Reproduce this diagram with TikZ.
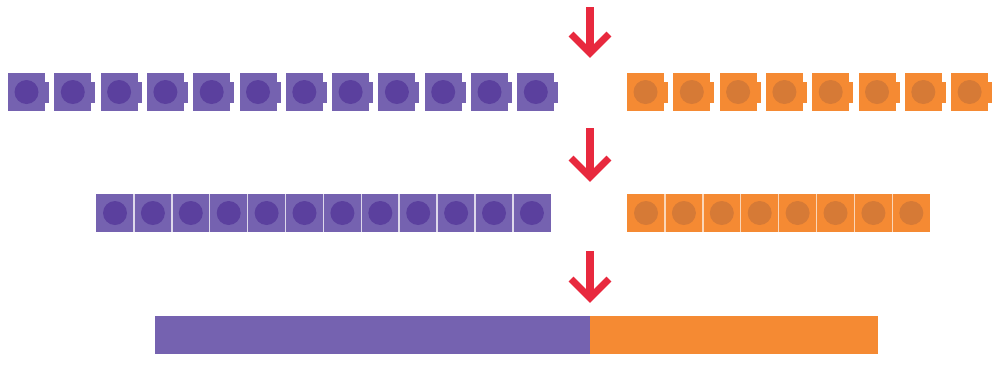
\documentclass[tikz,border=0pt]{standalone}
\usepackage{xcolor}
\definecolor{cubepurple}{HTML}{7562B0}
\definecolor{dotpurple}{HTML}{5B409E}
\definecolor{cubeorange}{HTML}{F58A33}
\definecolor{dotorange}{HTML}{D67A36}
\definecolor{arrowred}{HTML}{E8293E}

\begin{document}
\begin{tikzpicture}[x=0.02cm,y=-0.02cm,
  redarrow/.style={draw=arrowred,line width=4pt,line join=miter}]
  \useasboundingbox (0,0) rectangle (995,366);
  \foreach \i in {0,...,11} {
    \fill[cubepurple] (8+46.3*\i,73) rectangle ++(37,38);
    \fill[cubepurple] (45+46.3*\i,82) rectangle ++(4,21);
    \fill[dotpurple] (26.5+46.3*\i,92) circle (12);
  }
  \foreach \i in {0,...,7} {
    \fill[cubeorange] (627+46.3*\i,73) rectangle ++(37,38);
    \fill[cubeorange] (664+46.3*\i,82) rectangle ++(4,21);
    \fill[dotorange] (645.5+46.3*\i,92) circle (12);
  }
  \fill[cubepurple] (96,194) rectangle ++(454.8,38);
  \foreach \i in {0,...,11} {
    \fill[dotpurple] (115+37.9*\i,213) circle (12);
  }
  \foreach \i in {1,...,11} {
    \draw[white!75!cubepurple,line width=0.8pt] (96+37.9*\i,194) -- ++(0,38);
  }
  \fill[cubeorange] (627,194) rectangle ++(303.2,38);
  \foreach \i in {0,...,7} {
    \fill[dotorange] (646+37.9*\i,213) circle (12);
  }
  \foreach \i in {1,...,7} {
    \draw[white!65!cubeorange,line width=0.8pt] (627+37.9*\i,194) -- ++(0,38);
  }
  \fill[cubepurple] (155,316) rectangle (590,354);
  \fill[cubeorange] (590,316) rectangle (878,354);
  \coordinate (a1s) at (590,7);   \coordinate (a1e) at (590,53);
  \coordinate (a2s) at (590,128); \coordinate (a2e) at (590,177);
  \coordinate (a3s) at (590,251); \coordinate (a3e) at (590,298);
  \foreach \n in {1,2,3} {
    \draw[redarrow] (a\n s) -- (a\n e);
    \draw[redarrow] ([shift={(-19,-19)}]a\n e) -- (a\n e) -- ([shift={(19,-19)}]a\n e);
  }
\end{tikzpicture}
\end{document}
